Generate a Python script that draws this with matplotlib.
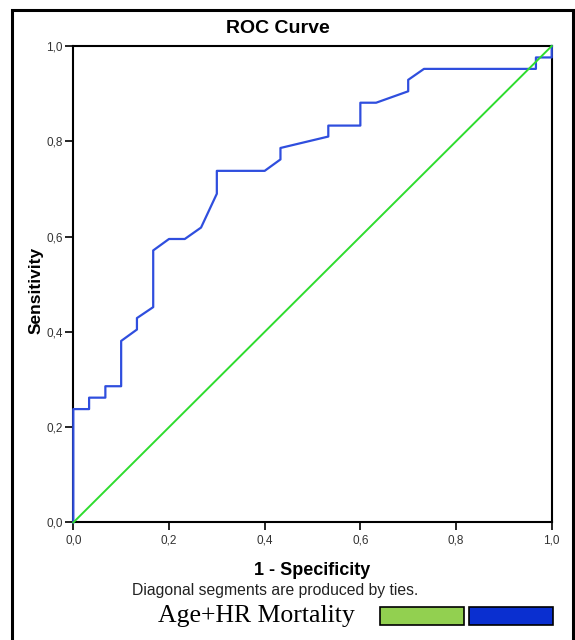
import matplotlib
matplotlib.use('Agg')
import matplotlib.pyplot as plt
from matplotlib.patches import Rectangle

# ROC points (1 - specificity, sensitivity)
fpr = [0.0, 0.0, 0.033, 0.033, 0.067, 0.067, 0.100, 0.100, 0.133, 0.133,
       0.167, 0.167, 0.200, 0.233, 0.267, 0.300, 0.300, 0.400, 0.433, 0.433,
       0.533, 0.533, 0.600, 0.600, 0.633, 0.700, 0.700, 0.733, 0.967, 0.967,
       1.0, 1.0]
tpr = [0.0, 0.238, 0.238, 0.262, 0.262, 0.286, 0.286, 0.381, 0.405, 0.429,
       0.452, 0.571, 0.595, 0.595, 0.619, 0.690, 0.738, 0.738, 0.762, 0.786,
       0.810, 0.833, 0.833, 0.881, 0.881, 0.905, 0.929, 0.952, 0.952, 0.976,
       0.976, 1.0]
ref_line = [0.0, 1.0]

ticks = [0.0, 0.2, 0.4, 0.6, 0.8, 1.0]
tick_labels = ['0,0', '0,2', '0,4', '0,6', '0,8', '1,0']

legend_label = 'Age+HR Mortality'
legend_colors = ['#92d050', '#0a2fd0']

sans = ['Liberation Sans', 'DejaVu Sans']
serif = ['Liberation Serif', 'DejaVu Serif']

fig = plt.figure(figsize=(5.75, 6.4), dpi=100)
ax = fig.add_axes([0.1275, 0.1836, 0.832, 0.7445])

ax.plot(fpr, tpr, '-', color='#2f4ede', lw=1.6, clip_on=False, zorder=3)
ax.plot(ref_line, ref_line, '-', color='#2edc2e', lw=1.4, clip_on=False,
        zorder=4)

ax.set_xlim(0, 1)
ax.set_ylim(0, 1)
ax.set_xticks(ticks)
ax.set_yticks(ticks)
ax.set_xticklabels(tick_labels, family=sans, fontsize=8.5, color='#333333')
ax.set_yticklabels(tick_labels, family=sans, fontsize=8.5, color='#333333')
ax.tick_params(axis='x', direction='out', length=5.5, width=1.2, pad=3.5)
ax.tick_params(axis='y', direction='out', length=5.5, width=1.2, pad=2)
for sp in ax.spines.values():
    sp.set_linewidth(1.5)
    sp.set_color('black')

ax.set_ylabel('Sensitivity', family=sans, fontsize=12.5, fontweight='bold')
ax.yaxis.set_label_coords(-0.062, 0.488)

# text under and above the plot
fig.text(0.4835, 0.956, 'ROC Curve', family=sans, fontsize=14,
         fontweight='bold', ha='center', va='center')
fig.text(0.5425, 0.108, '1 - Specificity', family=sans, fontsize=13,
         fontweight='bold', ha='center', va='center')
fig.text(0.479, 0.078, 'Diagonal segments are produced by ties.',
         family=sans, fontsize=11.3, ha='center', va='center', color='#222222')
fig.text(0.446, 0.037, legend_label, family=serif, fontsize=18.5,
         ha='center', va='center')

# legend colour boxes
fig.patches.append(Rectangle((0.661, 0.0234), 0.146, 0.0286,
                             transform=fig.transFigure, facecolor=legend_colors[0],
                             edgecolor='black', lw=1.2))
fig.patches.append(Rectangle((0.815, 0.0234), 0.147, 0.0286,
                             transform=fig.transFigure, facecolor=legend_colors[1],
                             edgecolor='black', lw=1.2))

# outer frame
fig.patches.append(Rectangle((12 / 575, -0.05), 561 / 575, 1.034,
                             transform=fig.transFigure, fill=False,
                             edgecolor='black', lw=2.2, zorder=10))

fig.savefig('out.png', dpi=100)
